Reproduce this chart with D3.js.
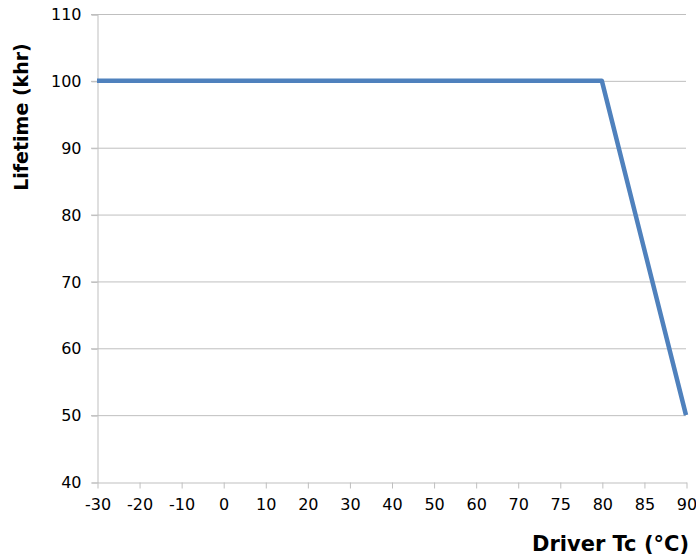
<!DOCTYPE html>
<html>
<head>
<meta charset="utf-8">
<script src="https://cdn.jsdelivr.net/npm/d3@7"></script>
<style>
  body { margin: 0; background: #fff; }
  svg { display: block; }
</style>
</head>
<body>
<div id="chart"></div>
<script>
// data
const temps = ['-30', '-20', '-10', '0', '10', '20', '30', '40', '50', '60', '70', '75', '80', '85', '90'];
const lifetime = [100, 100, 100, 100, 100, 100, 100, 100, 100, 100, 100, 100, 100, 75, 50];
const yTicks = [40, 50, 60, 70, 80, 90, 100, 110];

const W = 696, H = 560;
const margin = {top: 14, right: 10, bottom: 78, left: 97};

let svg = d3.select('#chart').append('svg')
    .attr('width', W)
    .attr('height', H);

let x = d3.scalePoint().domain(temps).range([margin.left, W - margin.right]);
let y = d3.scaleLinear().domain([40, 110]).range([H - margin.bottom, margin.top]);

// gridlines
svg.append('g')
    .selectAll('line')
    .data(yTicks.slice(1))
    .enter().append('line')
    .attr('x1', margin.left - 6)
    .attr('x2', W - margin.right)
    .attr('y1', d => y(d) + 0.5)
    .attr('y2', d => y(d) + 0.5)
    .attr('stroke', '#bfbfbf')
    .attr('stroke-width', 1);

// y axis
let yAxis = svg.append('g')
    .attr('transform', `translate(${margin.left + 0.5},0.5)`)
    .call(d3.axisLeft(y).tickValues(yTicks).tickSize(6).tickPadding(10));
yAxis.select('.domain').attr('stroke', '#bfbfbf');
yAxis.selectAll('.tick line').attr('stroke', '#bfbfbf');
yAxis.selectAll('.tick text')
    .attr('font-family', 'DejaVu Sans, Verdana, sans-serif')
    .attr('font-size', 16)
    .attr('fill', '#000');

// x axis
let xAxis = svg.append('g')
    .attr('transform', `translate(0.5,${H - margin.bottom + 0.5})`)
    .call(d3.axisBottom(x).tickSize(6).tickPadding(10).tickSizeOuter(0));
xAxis.select('.domain').attr('stroke', '#bfbfbf');
xAxis.selectAll('.tick line').attr('stroke', '#bfbfbf');
xAxis.selectAll('.tick text')
    .attr('font-family', 'DejaVu Sans, Verdana, sans-serif')
    .attr('font-size', 16)
    .attr('fill', '#000');

// line
let line = d3.line()
    .x((d, i) => x(temps[i]))
    .y(d => y(d));

svg.append('path')
    .datum(lifetime)
    .attr('d', line)
    .attr('fill', 'none')
    .attr('stroke', '#4f81bd')
    .attr('stroke-width', 4.5)
    .attr('stroke-linejoin', 'round');

// titles
svg.append('text')
    .attr('transform', `translate(28,117) rotate(-90)`)
    .attr('text-anchor', 'middle')
    .attr('font-family', 'DejaVu Sans, Verdana, sans-serif')
    .attr('font-weight', 'bold')
    .attr('font-size', 19)
    .text('Lifetime (khr)');

svg.append('text')
    .attr('x', 689)
    .attr('y', 551)
    .attr('text-anchor', 'end')
    .attr('font-family', 'DejaVu Sans, sans-serif')
    .attr('font-weight', 'bold')
    .attr('font-size', 21)
    .text('Driver Tc (°C)');
</script>
</body>
</html>
